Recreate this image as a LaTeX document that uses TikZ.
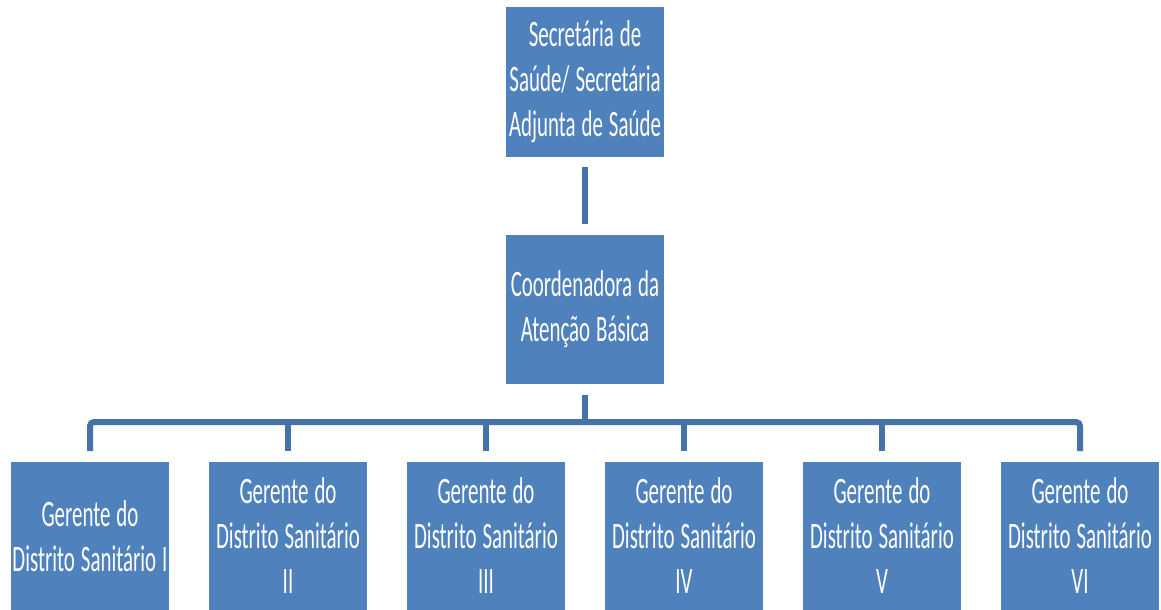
\documentclass[tikz,border=0pt]{standalone}
\usepackage{fontspec}
\newfontfamily\calfont[FakeStretch=0.56]{Carlito}
\newcommand\boxfont{\calfont\fontsize{28}{33.75}\selectfont\spaceskip 4.5pt plus 1pt minus 1pt\relax}
\usetikzlibrary{calc}
\definecolor{boxblue}{RGB}{79,129,189}
\definecolor{lineblue}{RGB}{69,114,168}
\tikzset{
  box/.style={fill=boxblue, text=white, minimum width=118.5pt, minimum height=111.75pt,
    align=center, inner sep=0pt, font=\boxfont},
  conn/.style={draw=lineblue, line width=4.5pt}
}
\begin{document}
\begin{tikzpicture}[x=0.75pt,y=-0.75pt]
\useasboundingbox (0,0) rectangle (1161,610);
\node[box] (top) at (585,82) {Secretária de\\Saúde/ Secretária\\Adjunta de Saúde};
\node[box] (mid) at (585,309.5) {Coordenadora da\\Atenção Básica};
\node[box] (d1) at (90,536) {Gerente do\\Distrito Sanitário I};
\node[box] (d2) at (288,536) {Gerente do\\Distrito Sanitário\\II};
\node[box] (d3) at (486,536) {Gerente do\\Distrito Sanitário\\III};
\node[box] (d4) at (684,536) {Gerente do\\Distrito Sanitário\\IV};
\node[box] (d5) at (882,536) {Gerente do\\Distrito Sanitário\\V};
\node[box] (d6) at (1080,536) {Gerente do\\Distrito Sanitário\\VI};
\coordinate (bus) at (585,422);
\draw[conn] ($(top.south)+(0,10)$) -- ($(mid.north)+(0,-11)$);
\draw[conn] ($(mid.south)+(0,11)$) -- (bus);
\draw[conn, rounded corners=3pt] ($(d1.north)+(0,-10)$) |- (bus) -| ($(d6.north)+(0,-10)$);
\foreach \d in {d2,d3,d4,d5}{
  \draw[conn] ($(\d.north)+(0,-10)$) -- (\d.north |- bus);
}
\end{tikzpicture}
\end{document}
